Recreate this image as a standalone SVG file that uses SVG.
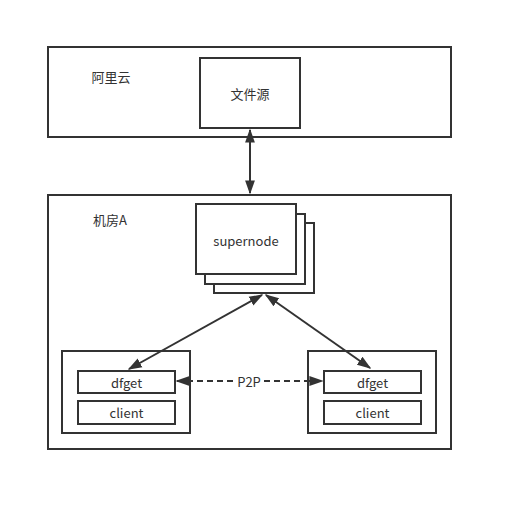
<svg xmlns="http://www.w3.org/2000/svg" width="513" height="512" viewBox="0 0 513 512">
<style>
.n{fill:#fff;stroke:#333;stroke-width:2}
text{font-family:"Noto Sans CJK SC","Noto Sans",sans-serif;font-size:13px;fill:#333}
.c{text-anchor:middle;dominant-baseline:central}
.l{stroke:#333;stroke-width:2;fill:none}
</style>
<defs>
<marker id="b" viewBox="0 0 10 10" refX="9" refY="5" markerWidth="14" markerHeight="14" orient="auto-start-reverse" markerUnits="userSpaceOnUse">
<path d="M0,1.5L10,5L0,8.5z" fill="#333"/>
</marker>
</defs>
<rect width="513" height="512" fill="#fff"/>
<g id="aliyun"><rect class="n" x="48" y="47" width="403" height="90"/><text x="111" y="76" class="c">阿里云</text></g>
<g id="filesrc"><rect class="n" x="200" y="58" width="100" height="70"/><text x="250" y="93" class="c">文件源</text></g>
<g id="roomA"><rect class="n" x="48" y="195" width="403" height="254"/><text x="110" y="219" class="c">机房A</text></g>
<g id="supernode">
<rect class="n" x="214" y="223" width="100" height="70"/>
<rect class="n" x="205" y="214" width="100" height="70"/>
<rect class="n" x="196" y="204" width="100" height="70"/>
<text x="246" y="240" class="c">supernode</text>
</g>
<g id="peer1"><rect class="n" x="62" y="351" width="128" height="82"/></g>
<g id="dfget1"><rect class="n" x="78" y="371" width="97" height="22"/><text x="126.5" y="382" class="c">dfget</text></g>
<g id="client1"><rect class="n" x="78" y="401" width="97" height="23"/><text x="126.5" y="412.5" class="c">client</text></g>
<g id="peer2"><rect class="n" x="308" y="351" width="128" height="82"/></g>
<g id="dfget2"><rect class="n" x="324" y="371" width="97" height="22"/><text x="372.5" y="382" class="c">dfget</text></g>
<g id="client2"><rect class="n" x="324" y="401" width="97" height="23"/><text x="372.5" y="412.5" class="c">client</text></g>
<g id="connectors">
<line class="l" x1="250" y1="130" x2="250" y2="193" marker-start="url(#b)" marker-end="url(#b)"/>
<line class="l" x1="262" y1="295" x2="129" y2="369" marker-start="url(#b)" marker-end="url(#b)"/>
<line class="l" x1="266" y1="295" x2="370" y2="368" marker-start="url(#b)" marker-end="url(#b)"/>
<line class="l" x1="177" y1="381" x2="234" y2="381" stroke-dasharray="6,4" marker-start="url(#b)"/>
<line class="l" x1="264" y1="381" x2="322" y2="381" stroke-dasharray="6,4" marker-end="url(#b)"/>
<text x="249" y="381" class="c">P2P</text>
</g>
</svg>
